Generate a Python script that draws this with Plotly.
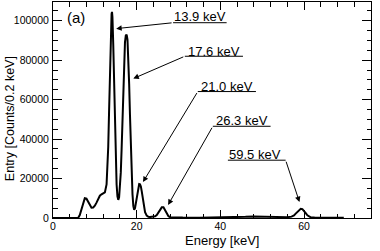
import plotly.graph_objects as go

# ---- data ----
energy_keV = [0, 6.0, 6.4, 6.8, 7.2, 7.6, 8.0, 8.4, 8.8, 9.2, 9.6, 10.0, 10.4, 10.8,
              11.2, 11.6, 12.0, 12.4, 12.8, 13.0, 13.2, 13.4, 13.6, 13.8, 14.0, 14.1,
              14.2, 14.4, 14.6, 14.8, 15.0, 15.2, 15.4, 15.6, 15.8, 16.0, 16.2, 16.4,
              16.6, 16.8, 17.0, 17.2, 17.4, 17.6, 17.8, 18.0, 18.2, 18.4, 18.6, 18.8,
              19.0, 19.2, 19.4, 19.6, 19.8, 20.0, 20.2, 20.4, 20.6, 20.8, 21.0, 21.2,
              21.4, 21.6, 21.8, 22.0, 22.4, 22.8, 23.2, 23.6, 24.0, 24.4, 24.8, 25.2,
              25.6, 26.0, 26.4, 26.8, 27.2, 27.6, 28.0, 29.0, 31.0, 35.0, 40.0, 44.0,
              46.0, 48.0, 50.0, 52.0, 54.0, 56.0, 57.0, 57.6, 58.0, 58.4, 58.8, 59.2,
              59.6, 60.0, 60.4, 60.8, 61.2, 61.6, 62.5, 66.0, 69.5]
counts = [0, 0, 1500, 4500, 8000, 10000, 9800, 8200, 6300, 5200, 5300, 6200, 7800, 9600,
          11300, 12000, 12300, 13000, 17000, 24000, 36000, 54000, 76000, 95000, 103500, 104500,
          102000, 88000, 68000, 46000, 29000, 17000, 11000, 9200, 10500, 15000, 23000, 35000,
          50000, 66000, 80000, 89000, 92500, 93000, 90500, 82000, 68000, 52000, 36000, 22000,
          12000, 6000, 4200, 5000, 7500, 10800, 14000, 16300, 17200, 17100, 16000, 13600,
          10500, 7500, 5000, 3000, 1200, 600, 500, 600, 700, 900, 1500, 2700,
          4300, 5400, 5400, 3900, 2100, 900, 400, 250, 200, 150, 200, 400,
          600, 800, 700, 400, 300, 400, 700, 1300, 2200, 3200, 4200, 4700,
          4500, 3700, 2500, 1400, 700, 350, 200, 150, 100]

peak_labels = ["13.9 keV", "17.6 keV", "21.0 keV", "26.3 keV", "59.5 keV"]
panel_label = "(a)"
x_title = "Energy [keV]"
y_title = "Entry [Counts/0.2 keV]"

# ---- annotation layout (label text centre, underline span, arrow tail/tip) ----
label_pos = [(35.1, 102000), (38.5, 84300), (41.5, 66700), (45.1, 49500), (48.2, 32300)]
underline = [(28.7, 41.5, 99000), (31.5, 45.4, 82000), (34.6, 48.5, 64100),
             (38.2, 52.0, 46500), (41.8, 55.6, 29300)]
arrow_tail = [(28.7, 99000), (31.5, 82000), (34.6, 64100), (38.2, 46500), (55.6, 29300)]
arrow_tip = [(15.1, 96000), (19.2, 70700), (21.5, 18200), (27.5, 6600), (58.9, 8100)]

FONT = "Liberation Sans, Arial, Helvetica, sans-serif"

fig = go.Figure()
fig.add_trace(go.Scatter(x=energy_keV, y=counts, mode="lines",
                         line=dict(color="black", width=2), showlegend=False,
                         hoverinfo="skip"))

for txt, (tx, ty), (x0, x1, uy), (ax, ay), (hx, hy) in zip(
        peak_labels, label_pos, underline, arrow_tail, arrow_tip):
    fig.add_annotation(x=tx, y=ty, text=txt, showarrow=False, xref="x", yref="y",
                       font=dict(family=FONT, size=13, color="black"))
    fig.add_shape(type="line", x0=x0, x1=x1, y0=uy, y1=uy, xref="x", yref="y",
                  line=dict(color="black", width=1))
    fig.add_annotation(x=hx, y=hy, ax=ax, ay=ay, axref="x", ayref="y", xref="x", yref="y",
                       text="", showarrow=True, arrowhead=2, arrowsize=1.1,
                       arrowwidth=1, arrowcolor="black", standoff=0, startstandoff=0)

fig.add_annotation(x=5.6, y=101500, text=panel_label, showarrow=False, xref="x", yref="y",
                   font=dict(family=FONT, size=15, color="black"))

fig.add_annotation(xref="paper", yref="paper", x=-0.135, y=0.458, text=y_title,
                   textangle=-90, showarrow=False, xanchor="center", yanchor="middle",
                   font=dict(family=FONT, size=12.5, color="black"))
fig.add_annotation(xref="paper", yref="paper", x=0.531, y=-0.102, text=x_title,
                   showarrow=False, xanchor="center", yanchor="middle",
                   font=dict(family=FONT, size=13, color="black"))

axis_common = dict(showgrid=False, zeroline=False, showline=True, linecolor="black",
                   linewidth=1, mirror="ticks", ticks="inside", tickcolor="black",
                   tickwidth=1, automargin=False,
                   tickfont=dict(family=FONT, size=10.5, color="black"))

fig.update_xaxes(range=[0, 76], dtick=20, tick0=0, ticklen=8,
                 minor=dict(dtick=4, ticklen=4.5, ticks="inside", tickcolor="black"),
                 ticklabelstandoff=-2,
                 **axis_common)
fig.update_yaxes(range=[0, 109500], dtick=20000, tick0=0, ticklen=9,
                 minor=dict(dtick=5000, ticklen=4.5, ticks="inside", tickcolor="black"),
                 tickformat="d", ticklabelstandoff=1,
                 **axis_common)

fig.update_layout(width=380, height=251, margin=dict(l=53, r=9, t=2, b=33),
                  plot_bgcolor="white", paper_bgcolor="white")

fig.write_html("out.html", config={"displayModeBar": False},
               post_script="document.body.style.margin='0px';")
